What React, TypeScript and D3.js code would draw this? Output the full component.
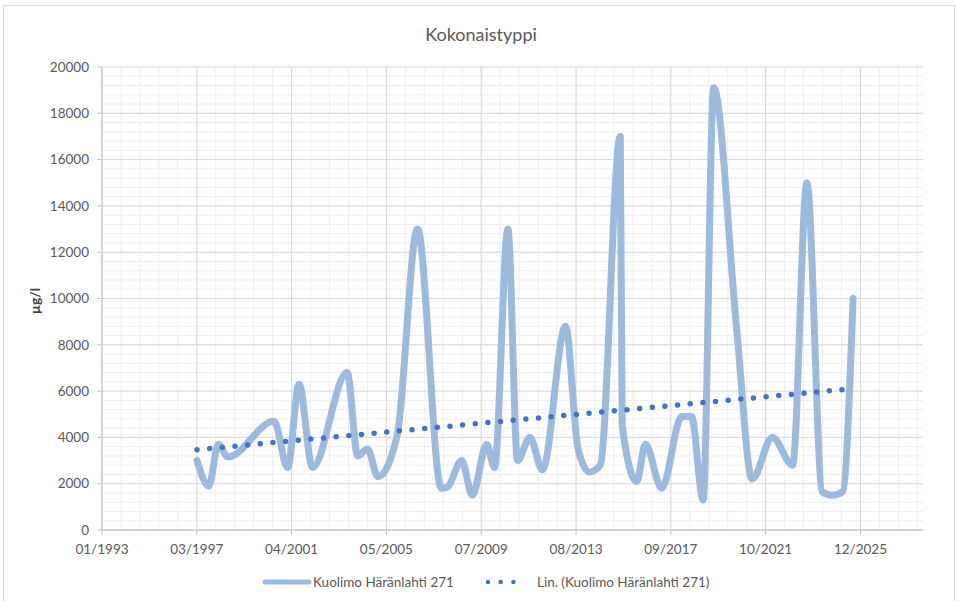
import React from "react";
import * as d3 from "d3";

const W = 958;
const H = 601;
const MARGIN = { top: 67, right: 35, bottom: 71, left: 102 };

// sampling dates and total phosphorus (µg/l)
const sampleDates = [
  "1997-03-15", "1997-09-15", "1998-02-15", "1998-07-15", "2000-07-15",
  "2001-02-15", "2001-08-15", "2002-03-15", "2003-09-15", "2004-03-01",
  "2004-08-01", "2005-01-15", "2005-11-15", "2006-10-01", "2007-10-15",
  "2008-01-15", "2008-09-01", "2009-02-15", "2009-10-01", "2010-02-01",
  "2010-09-01", "2011-02-01", "2011-08-15", "2012-03-01", "2013-03-01",
  "2013-09-15", "2014-03-15", "2014-09-01", "2015-07-15", "2015-08-15",
  "2016-04-01", "2016-08-15", "2017-05-01", "2018-03-15", "2018-08-15",
  "2019-02-15", "2019-08-01", "2020-08-01", "2021-04-01", "2022-02-15",
  "2023-01-01", "2023-08-15", "2024-04-15", "2024-09-15", "2025-03-01",
  "2025-08-15",
];
const totalP = [
  3000, 1900, 3700, 3150, 4700,
  2700, 6300, 2700, 6800, 3200,
  3500, 2300, 4100, 13000, 1800,
  1850, 3000, 1500, 3700, 2700,
  13000, 3000, 4000, 2600, 8800,
  3500, 2500, 2800, 17000, 4500,
  2100, 3700, 1800, 4900, 4900,
  1300, 19100, 8600, 2200, 4000,
  2800, 15000, 1650, 1500, 1650,
  10000,
];

const yTicks = [0, 2000, 4000, 6000, 8000, 10000, 12000, 14000, 16000, 18000, 20000];
const axisStart = "1993-01-31";
const majorDays = 1500;
const majorCount = 8;
const axisSpanDays = 12990;

const seriesName = "Kuolimo Häränlahti 271";
const trendName = "Lin. (Kuolimo Häränlahti 271)";
const title = "Kokonaistyppi";
const yLabel = "µg/l";

const FONT = "Lato, 'Open Sans', sans-serif";
const DAY = 86400000;

export default function App() {
  const innerW = W - MARGIN.left - MARGIN.right;
  const innerH = H - MARGIN.top - MARGIN.bottom;
  const t0 = new Date(axisStart + "T00:00:00Z");
  const t1 = new Date(t0.getTime() + axisSpanDays * DAY);

  const x = d3.scaleUtc().domain([t0, t1]).range([0, innerW]);
  const y = d3.scaleLinear().domain([0, 20000]).range([innerH, 0]);

  const data = sampleDates.map((d, i) => ({ date: new Date(d + "T00:00:00Z"), v: totalP[i] }));

  const majorX = d3.range(majorCount + 1).map((k) => new Date(t0.getTime() + k * majorDays * DAY));
  const minorX = d3
    .range(Math.floor(axisSpanDays / (majorDays / 5)) + 1)
    .map((k) => new Date(t0.getTime() + (k * majorDays * DAY) / 5));
  const minorY = d3.range(0, 20001, 400);
  const fmt = d3.utcFormat("%m/%Y");

  // smoothed line
  const line = d3
    .line<{ date: Date; v: number }>()
    .x((d) => x(d.date))
    .y((d) => y(d.v))
    .curve(d3.curveMonotoneX);

  // linear trend (least squares)
  const xs = data.map((d) => d.date.getTime());
  const mx = d3.mean(xs)!;
  const my = d3.mean(data, (d) => d.v)!;
  const slope =
    d3.sum(data, (d) => (d.date.getTime() - mx) * (d.v - my)) /
    d3.sum(xs, (t) => (t - mx) * (t - mx));
  const trendAt = (t: number) => my + slope * (t - mx);
  const tFirst = xs[0];
  const tLast = xs[xs.length - 1];

  const seriesColor = "#9cb9de";
  const trendColor = "#4472c4";
  const textColor = "#595959";

  return (
    <svg width={W} height={H} style={{ position: "absolute", left: 0, top: 0, background: "#fff" }}>
      <rect x={3.5} y={5.5} width={W - 7} height={H} fill="#fff" stroke="#d9d9d9" />
      <text x={481} y={41} textAnchor="middle" fontFamily={FONT} fontSize={18} fill={textColor}>
        {title}
      </text>

      <g transform={`translate(${MARGIN.left},${MARGIN.top})`}>
        {minorY.map((v) => (
          <line key={"my" + v} x1={0} x2={innerW} y1={y(v)} y2={y(v)} stroke="#eeeeee" />
        ))}
        {minorX.map((d, i) => (
          <line key={"mx" + i} x1={x(d)} x2={x(d)} y1={0} y2={innerH} stroke="#eeeeee" />
        ))}
        {yTicks.map((v) => (
          <line key={"gy" + v} x1={0} x2={innerW} y1={y(v)} y2={y(v)} stroke="#d9d9d9" />
        ))}
        {majorX.map((d, i) => (
          <line key={"gx" + i} x1={x(d)} x2={x(d)} y1={0} y2={innerH} stroke="#d9d9d9" />
        ))}
        <line x1={0} x2={innerW} y1={innerH} y2={innerH} stroke="#bfbfbf" />
        <line x1={0} x2={0} y1={0} y2={innerH} stroke="#bfbfbf" />
        {yTicks.map((v) => (
          <g key={"ty" + v}>
            <line x1={-5} x2={0} y1={y(v)} y2={y(v)} stroke="#bfbfbf" />
            <text x={-13} y={y(v)} dy="0.35em" textAnchor="end" fontFamily={FONT} fontSize={13.5} fill={textColor}>
              {v}
            </text>
          </g>
        ))}
        {majorX.map((d, i) => (
          <g key={"tx" + i}>
            <line x1={x(d)} x2={x(d)} y1={innerH} y2={innerH + 5} stroke="#bfbfbf" />
            <text x={x(d)} y={innerH + 24} textAnchor="middle" fontFamily={FONT} fontSize={13.5} fill={textColor}>
              {fmt(d)}
            </text>
          </g>
        ))}

        <path d={line(data) ?? ""} fill="none" stroke={seriesColor} strokeWidth={7} strokeLinejoin="round" strokeLinecap="round" />
        <line
          x1={x(new Date(tFirst))}
          y1={y(trendAt(tFirst))}
          x2={x(new Date(tLast))}
          y2={y(trendAt(tLast))}
          stroke={trendColor}
          strokeWidth={5.5}
          strokeLinecap="round"
          strokeDasharray="0 12.7"
        />
      </g>

      <text
        transform={`translate(40,301) rotate(-90)`}
        textAnchor="middle"
        fontFamily={FONT}
        fontSize={14}
        fontWeight="bold"
        fill="#404040"
      >
        {yLabel}
      </text>

      <g transform="translate(0,582)">
        <line x1={265} x2={309} y1={0} y2={0} stroke={seriesColor} strokeWidth={5} strokeLinecap="round" />
        <text x={313} y={0} dy="0.35em" fontFamily={FONT} fontSize={13.5} fill={textColor}>
          {seriesName}
        </text>
        <line x1={488} x2={526} y1={0} y2={0} stroke={trendColor} strokeWidth={4.5} strokeLinecap="round" strokeDasharray="0 12.7" />
        <text x={537} y={0} dy="0.35em" fontFamily={FONT} fontSize={13.5} fill={textColor}>
          {trendName}
        </text>
      </g>
    </svg>
  );
}
